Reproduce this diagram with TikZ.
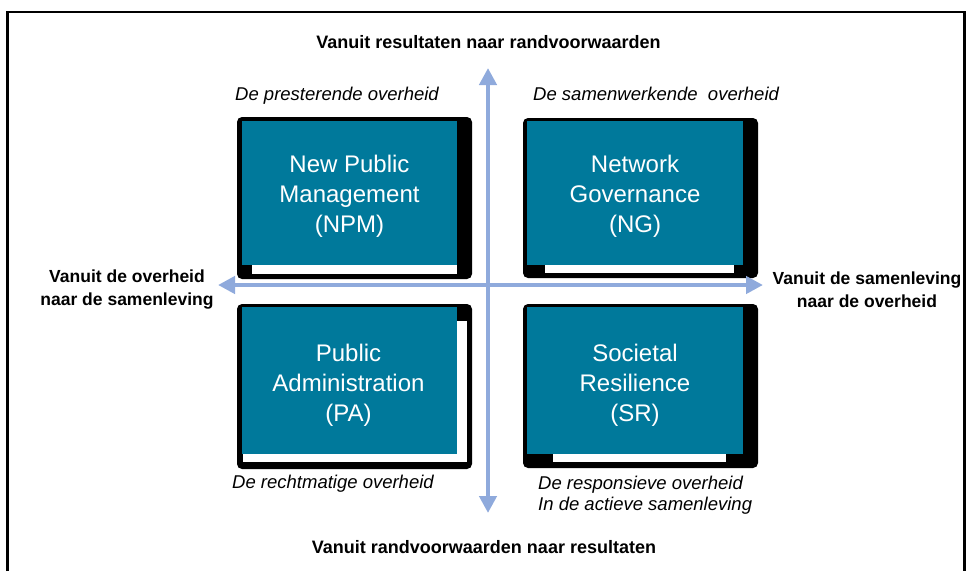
\documentclass[tikz,border=0pt]{standalone}
\usepackage{fontspec}
\setmainfont{Liberation Sans}
\usetikzlibrary{arrows.meta}
\definecolor{boxteal}{HTML}{00799B}
\definecolor{axisblue}{HTML}{8FAADC}
\tikzset{
  shadowbox/.style={fill=black, rounded corners=5pt},
  whitebox/.style={fill=white},
  tealbox/.style={draw=none, fill=boxteal, inner sep=0pt},
  boxtext/.style={text=white, align=center, inner sep=0pt, font=\fontsize{24}{30}\selectfont},
  hdr/.style={inner sep=0pt, font=\fontsize{18}{22}\selectfont\bfseries},
  side/.style={inner sep=0pt, align=center, font=\fontsize{17.5}{22.5}\selectfont\bfseries},
  ital/.style={inner sep=0pt, font=\fontsize{18.5}{21}\selectfont\itshape},
  axis/.style={draw=axisblue, line width=4.5pt, {Triangle[length=17pt,width=17pt]}-{Triangle[length=17pt,width=17pt]}}
}
\begin{document}
\begin{tikzpicture}[x=1pt,y=-1pt]
\useasboundingbox (0,0) rectangle (972,571);
% frame
\draw[line width=2.5pt] (7.5,571) -- (7.5,12) -- (964.5,12) -- (964.5,571);

% NPM
\fill[shadowbox] (237,117) rectangle (472,279);
\fill[whitebox] (252,255) rectangle (457,274);
\node[tealbox, minimum width=215pt, minimum height=144pt] (npm) at (349.5,193) {};
\node[boxtext] (npmtext) at (349.5,196.5) {New Public\\Management\\(NPM)};

% NG
\fill[shadowbox] (523,118) rectangle (758,278);
\fill[whitebox] (545,255) rectangle (734,273);
\node[tealbox, minimum width=216pt, minimum height=144pt] (ng) at (635,193) {};
\node[boxtext] (ngtext) at (635,196.5) {Network\\Governance\\(NG)};

% PA
\fill[shadowbox] (237,304) rectangle (472,469);
\fill[whitebox] (243,321) rectangle (467,462);
\node[tealbox, minimum width=215pt, minimum height=147pt] (pa) at (349.5,380.5) {};
\node[boxtext] (patext) at (348.5,385.7) {Public\\Administration\\(PA)};

% SR
\fill[shadowbox] (523,304) rectangle (758,468);
\fill[whitebox] (553,445) rectangle (726,462);
\node[tealbox, minimum width=216pt, minimum height=147pt] (sr) at (635,380.5) {};
\node[boxtext] (srtext) at (635,385.7) {Societal\\Resilience\\(SR)};

% axes
\coordinate (axtop) at (488,68);
\coordinate (axbot) at (488,513);
\coordinate (axleft) at (218,285);
\coordinate (axright) at (763,285);
\draw[axis] (axbot) -- (axtop);
\draw[axis] (axleft) -- (axright);

% axis labels
\node[hdr, anchor=base] (toplbl) at (488.5,48) {Vanuit resultaten naar randvoorwaarden};
\node[hdr, anchor=base] (botlbl) at (484,553) {Vanuit randvoorwaarden naar resultaten};
\node[side] (leftlbl) at (127,289.5) {Vanuit de overheid\\naar de samenleving};
\node[side] (rightlbl) at (867,289.5) {Vanuit de samenleving\\naar de overheid};

% quadrant labels
\node[ital, anchor=base west] (npmlbl) at (235,100) {De presterende overheid};
\node[ital, anchor=base west] (nglbl) at (533,100) {De samenwerkende\ \ overheid};
\node[ital, anchor=base west] (palbl) at (232,488) {De rechtmatige overheid};
\node[ital, anchor=west, align=left] (srlbl) at (538,494.8) {De responsieve overheid\\In de actieve samenleving};
\end{tikzpicture}
\end{document}
